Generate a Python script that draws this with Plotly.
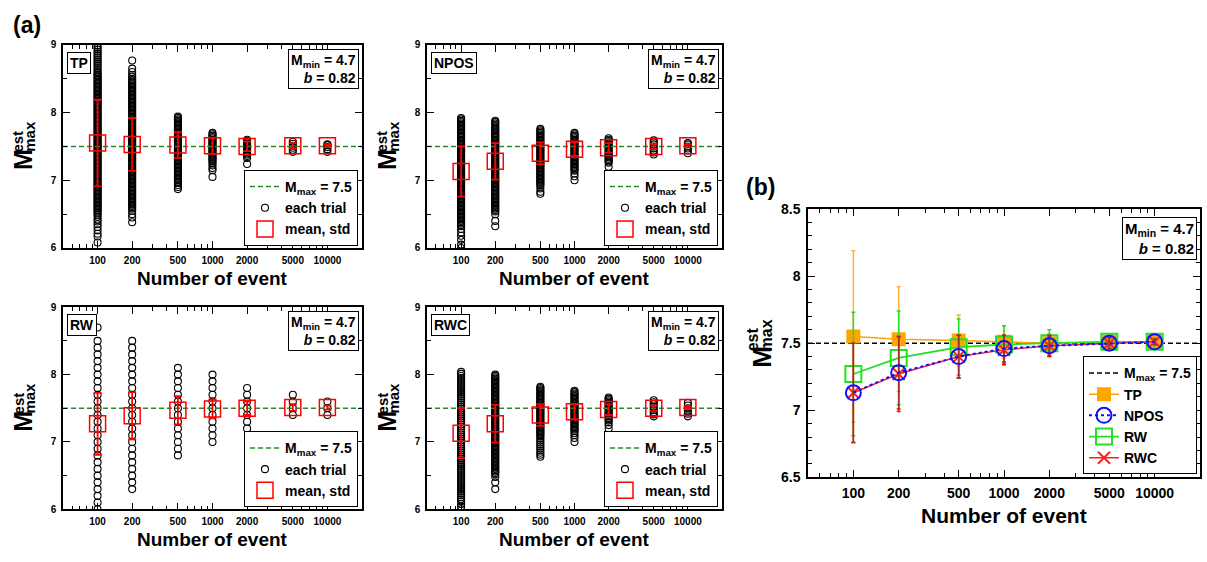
import math
import plotly.graph_objects as go

W, H = 1207, 562
FONT = "Liberation Sans, Arial, Helvetica, sans-serif"

# ---------------- data ----------------
N_EVENTS = [100, 200, 500, 1000, 2000, 5000, 10000]
X_TICK_TEXT = ["100", "200", "500", "1000", "2000", "5000", "10000"]
X_MINOR = [60, 70, 80, 90, 300, 400, 600, 700, 800, 900, 3000, 4000, 6000, 7000, 8000, 9000]
X_RANGE = [50, 20000]
A_Y_TICKS = [6, 7, 8, 9]
A_Y_MINOR = [6.5, 7.5, 8.5]
A_Y_RANGE = [6, 9]
B_Y_TICKS = [6.5, 7, 7.5, 8, 8.5]
B_Y_TICK_TEXT = ["6.5", "7", "7.5", "8", "8.5"]
B_Y_RANGE = [6.5, 8.5]

M_MAX = 7.5
M_MIN = 4.7
B_VALUE = 0.82

METHODS = ["TP", "NPOS", "RW", "RWC"]

MEAN_TP = [7.55, 7.53, 7.52, 7.51, 7.50, 7.51, 7.51]
STD_TP = [0.64, 0.39, 0.19, 0.12, 0.07, 0.04, 0.02]
MEAN_NPOS = [7.13, 7.28, 7.40, 7.46, 7.48, 7.50, 7.51]
STD_NPOS = [0.37, 0.27, 0.16, 0.10, 0.07, 0.04, 0.02]
MEAN_RW = [7.27, 7.39, 7.47, 7.49, 7.50, 7.51, 7.51]
STD_RW = [0.46, 0.35, 0.21, 0.14, 0.10, 0.05, 0.03]
MEAN_RWC = [7.13, 7.27, 7.40, 7.45, 7.48, 7.50, 7.51]
STD_RWC = [0.37, 0.28, 0.16, 0.11, 0.08, 0.04, 0.02]

TRIALS_TP = [
    [6.08, 6.17, 6.21, 6.26, 6.31, 6.35, 6.39, 6.42, 6.46, 6.49,
     6.52, 6.54, 6.56, 6.58, 6.60, 6.62, 6.64, 6.66, 6.68, 6.70,
     6.72, 6.74, 6.76, 6.78, 6.80, 6.82, 6.84, 6.86, 6.88, 6.90,
     6.92, 6.94, 6.96, 6.98, 7.00, 7.02, 7.04, 7.06, 7.08, 7.10,
     7.12, 7.14, 7.16, 7.18, 7.20, 7.22, 7.24, 7.26, 7.28, 7.30,
     7.32, 7.34, 7.36, 7.38, 7.40, 7.42, 7.44, 7.46, 7.48, 7.50,
     7.52, 7.54, 7.56, 7.58, 7.60, 7.62, 7.64, 7.66, 7.68, 7.70,
     7.72, 7.74, 7.76, 7.78, 7.80, 7.82, 7.84, 7.86, 7.88, 7.90,
     7.92, 7.94, 7.96, 7.98, 8.00, 8.02, 8.04, 8.06, 8.08, 8.10,
     8.12, 8.14, 8.16, 8.18, 8.20, 8.22, 8.24, 8.26, 8.28, 8.30,
     8.32, 8.34, 8.36, 8.38, 8.40, 8.42, 8.44, 8.46, 8.48, 8.50,
     8.52, 8.54, 8.56, 8.58, 8.60, 8.63, 8.66, 8.69, 8.72, 8.75,
     8.78, 8.81, 8.84, 8.87, 8.90, 8.93, 8.96, 8.99],
    [6.38, 6.45, 6.50, 6.55,
     6.58, 6.60, 6.62, 6.64, 6.66, 6.68, 6.70,
     6.72, 6.74, 6.76, 6.78, 6.80, 6.82, 6.84, 6.86, 6.88, 6.90,
     6.92, 6.94, 6.96, 6.98, 7.00, 7.02, 7.04, 7.06, 7.08, 7.10,
     7.12, 7.14, 7.16, 7.18, 7.20, 7.22, 7.24, 7.26, 7.28, 7.30,
     7.32, 7.34, 7.36, 7.38, 7.40, 7.42, 7.44, 7.46, 7.48, 7.50,
     7.52, 7.54, 7.56, 7.58, 7.60, 7.62, 7.64, 7.66, 7.68, 7.70,
     7.72, 7.74, 7.76, 7.78, 7.80, 7.82, 7.84, 7.86, 7.88, 7.90,
     7.92, 7.94, 7.96, 7.98, 8.00, 8.02, 8.04, 8.06, 8.08, 8.10,
     8.12, 8.14, 8.16, 8.18, 8.20, 8.22, 8.24, 8.26, 8.28, 8.30,
     8.32, 8.34, 8.36, 8.38, 8.40, 8.42, 8.44, 8.46, 8.48, 8.50,
     8.53, 8.56, 8.60, 8.65, 8.77],
    [6.87, 6.90, 6.93,
     6.96, 6.98, 7.00, 7.02, 7.04, 7.06, 7.08, 7.10,
     7.12, 7.14, 7.16, 7.18, 7.20, 7.22, 7.24, 7.26, 7.28, 7.30,
     7.32, 7.34, 7.36, 7.38, 7.40, 7.42, 7.44, 7.46, 7.48, 7.50,
     7.52, 7.54, 7.56, 7.58, 7.60, 7.62, 7.64, 7.66, 7.68, 7.70,
     7.72, 7.74, 7.76, 7.78, 7.80, 7.82, 7.84, 7.86, 7.88, 7.90,
     7.92, 7.94],
    [7.05, 7.15, 7.18, 7.22, 7.25, 7.28, 7.30,
     7.32, 7.34, 7.36, 7.38, 7.40, 7.42, 7.44, 7.46, 7.48, 7.50,
     7.52, 7.54, 7.56, 7.58, 7.60, 7.62, 7.64, 7.66, 7.68, 7.70],
    [7.24, 7.33, 7.36, 7.38, 7.40, 7.42, 7.44, 7.46, 7.48, 7.50,
     7.52, 7.54, 7.56, 7.58, 7.60],
    [7.42, 7.45, 7.48, 7.51, 7.54, 7.57],
    [7.42, 7.46, 7.49, 7.52, 7.53],
]
TRIALS_NPOS = [
    [6.00, 6.05, 6.12, 6.18, 6.23, 6.28,
     6.32, 6.34, 6.36, 6.38, 6.40, 6.42, 6.44, 6.46, 6.48, 6.50,
     6.52, 6.54, 6.56, 6.58, 6.60, 6.62, 6.64, 6.66, 6.68, 6.70,
     6.72, 6.74, 6.76, 6.78, 6.80, 6.82, 6.84, 6.86, 6.88, 6.90,
     6.92, 6.94, 6.96, 6.98, 7.00, 7.02, 7.04, 7.06, 7.08, 7.10,
     7.12, 7.14, 7.16, 7.18, 7.20, 7.22, 7.24, 7.26, 7.28, 7.30,
     7.32, 7.34, 7.36, 7.38, 7.40, 7.42, 7.44, 7.46, 7.48, 7.50,
     7.52, 7.54, 7.56, 7.58, 7.60, 7.62, 7.64, 7.66, 7.68, 7.70,
     7.72, 7.74, 7.76, 7.78, 7.80, 7.82, 7.84, 7.86, 7.88, 7.90,
     7.92],
    [6.32, 6.40, 6.50,
     6.54, 6.56, 6.58, 6.60, 6.62, 6.64, 6.66, 6.68, 6.70,
     6.72, 6.74, 6.76, 6.78, 6.80, 6.82, 6.84, 6.86, 6.88, 6.90,
     6.92, 6.94, 6.96, 6.98, 7.00, 7.02, 7.04, 7.06, 7.08, 7.10,
     7.12, 7.14, 7.16, 7.18, 7.20, 7.22, 7.24, 7.26, 7.28, 7.30,
     7.32, 7.34, 7.36, 7.38, 7.40, 7.42, 7.44, 7.46, 7.48, 7.50,
     7.52, 7.54, 7.56, 7.58, 7.60, 7.62, 7.64, 7.66, 7.68, 7.70,
     7.72, 7.74, 7.76, 7.78, 7.80, 7.82, 7.84, 7.86, 7.88],
    [6.80, 6.83, 6.88,
     6.92, 6.94, 6.96, 6.98, 7.00, 7.02, 7.04, 7.06, 7.08, 7.10,
     7.12, 7.14, 7.16, 7.18, 7.20, 7.22, 7.24, 7.26, 7.28, 7.30,
     7.32, 7.34, 7.36, 7.38, 7.40, 7.42, 7.44, 7.46, 7.48, 7.50,
     7.52, 7.54, 7.56, 7.58, 7.60, 7.62, 7.64, 7.66, 7.68, 7.70,
     7.72, 7.74, 7.76],
    [7.00, 7.06, 7.10,
     7.14, 7.16, 7.18, 7.20, 7.22, 7.24, 7.26, 7.28, 7.30,
     7.32, 7.34, 7.36, 7.38, 7.40, 7.42, 7.44, 7.46, 7.48, 7.50,
     7.52, 7.54, 7.56, 7.58, 7.60, 7.62, 7.64, 7.66, 7.68, 7.70],
    [7.20, 7.26, 7.28, 7.30,
     7.32, 7.34, 7.36, 7.38, 7.40, 7.42, 7.44, 7.46, 7.48, 7.50,
     7.52, 7.54, 7.56, 7.58, 7.60, 7.62],
    [7.38, 7.41, 7.44, 7.47, 7.50, 7.53, 7.56, 7.59],
    [7.40, 7.44, 7.47, 7.50, 7.53, 7.55],
]
TRIALS_RW = [
    [6.0, 6.1, 6.2, 6.3, 6.4, 6.5, 6.6, 6.7, 6.8, 6.9, 7.0, 7.1, 7.2, 7.3, 7.4, 7.5, 7.6, 7.7, 7.8, 7.9, 8.0,
     8.1, 8.2, 8.3, 8.4, 8.5, 8.7],
    [6.3, 6.4, 6.5, 6.6, 6.7, 6.8, 6.9, 7.0, 7.1, 7.2, 7.3, 7.4, 7.5, 7.6, 7.7, 7.8, 7.9, 8.0, 8.1, 8.2, 8.3,
     8.4, 8.5],
    [6.8, 6.9, 7.0, 7.1, 7.2, 7.3, 7.4, 7.5, 7.6, 7.7, 7.8, 7.9, 8.0, 8.1],
    [7.0, 7.1, 7.2, 7.3, 7.4, 7.5, 7.6, 7.7, 7.8, 7.9, 8.0],
    [7.2, 7.3, 7.4, 7.5, 7.6, 7.7, 7.8],
    [7.4, 7.5, 7.6, 7.7],
    [7.4, 7.5, 7.6],
]
TRIALS_RWC = [
    [6.00, 6.04, 6.08,
     6.12, 6.15, 6.18, 6.21, 6.24, 6.27, 6.30, 6.33, 6.36, 6.39, 6.42, 6.45, 6.48, 6.51, 6.54, 6.57,
     6.60, 6.63, 6.66, 6.69, 6.72, 6.75, 6.78, 6.81, 6.84, 6.87, 6.90, 6.93, 6.96, 6.99, 7.02, 7.05,
     7.08, 7.11, 7.14, 7.17, 7.20, 7.23, 7.26, 7.29, 7.32, 7.35, 7.38, 7.41, 7.44, 7.47, 7.50, 7.53,
     7.56, 7.59, 7.62, 7.65, 7.68, 7.71, 7.74, 7.77, 7.80, 7.83, 7.86, 7.89, 7.92, 7.95, 7.98, 8.01,
     8.04],
    [6.30, 6.40, 6.48,
     6.52, 6.54, 6.56, 6.58, 6.60, 6.62, 6.64, 6.66, 6.68, 6.70,
     6.72, 6.74, 6.76, 6.78, 6.80, 6.82, 6.84, 6.86, 6.88, 6.90,
     6.92, 6.94, 6.96, 6.98, 7.00, 7.02, 7.04, 7.06, 7.08, 7.10,
     7.12, 7.14, 7.16, 7.18, 7.20, 7.22, 7.24, 7.26, 7.28, 7.30,
     7.32, 7.34, 7.36, 7.38, 7.40, 7.42, 7.44, 7.46, 7.48, 7.50,
     7.52, 7.54, 7.56, 7.58, 7.60, 7.62, 7.64, 7.66, 7.68, 7.70,
     7.72, 7.74, 7.76, 7.78, 7.80, 7.82, 7.84, 7.86, 7.88, 7.90,
     7.92, 7.94, 7.96, 7.98, 8.00],
    [6.78, 6.81, 6.84, 6.87, 6.90, 6.93, 6.96, 6.99, 7.02, 7.05, 7.08,
     7.10, 7.12, 7.14, 7.16, 7.18, 7.20, 7.22, 7.24, 7.26, 7.28, 7.30,
     7.32, 7.34, 7.36, 7.38, 7.40, 7.42, 7.44, 7.46, 7.48, 7.50,
     7.52, 7.54, 7.56, 7.58, 7.60, 7.62, 7.64, 7.66, 7.68, 7.70,
     7.72, 7.74, 7.76, 7.78, 7.80, 7.82],
    [7.00, 7.06, 7.10, 7.13,
     7.16, 7.18, 7.20, 7.22, 7.24, 7.26, 7.28, 7.30,
     7.32, 7.34, 7.36, 7.38, 7.40, 7.42, 7.44, 7.46, 7.48, 7.50,
     7.52, 7.54, 7.56, 7.58, 7.60, 7.62, 7.64, 7.66, 7.68, 7.70,
     7.72, 7.74, 7.76],
    [7.20, 7.25, 7.29,
     7.32, 7.34, 7.36, 7.38, 7.40, 7.42, 7.44, 7.46, 7.48, 7.50,
     7.52, 7.54, 7.56, 7.58, 7.60, 7.62, 7.64, 7.66],
    [7.38, 7.41, 7.44, 7.47, 7.50, 7.53, 7.56, 7.59, 7.62],
    [7.38, 7.42, 7.46, 7.50, 7.54, 7.58],
]

TRIALS = [TRIALS_TP, TRIALS_NPOS, TRIALS_RW, TRIALS_RWC]
MEANS = [MEAN_TP, MEAN_NPOS, MEAN_RW, MEAN_RWC]
STDS = [STD_TP, STD_NPOS, STD_RW, STD_RWC]

# ---------------- layout helpers (pixel boxes) ----------------
PANELS_A = [(63, 362, 38, 247), (427, 722, 38, 247), (63, 362, 308, 516), (427, 722, 308, 516)]
PANEL_B = (808, 1200, 207, 483)


def px_x(p):
    return p / W


def px_y(p):
    return 1 - p / H


def bold(size, color="black"):
    return dict(family=FONT, size=size, color=color, weight="bold")


def text_at(xp, yp, text, size, angle=0):
    return dict(x=px_x(xp), y=px_y(yp), xref="paper", yref="paper", xanchor="center",
                yanchor="middle", text=text, textangle=angle, showarrow=False, font=bold(size))


def x_axis(box, anchor, tick_size):
    x0, x1, y0, y1 = box
    return dict(type="log", range=[math.log10(X_RANGE[0]), math.log10(X_RANGE[1])],
                domain=[px_x(x0), px_x(x1)], anchor=anchor,
                tickmode="array", tickvals=N_EVENTS, ticktext=X_TICK_TEXT,
                ticks="inside", ticklen=7, tickwidth=1, tickcolor="black",
                minor=dict(tickmode="array", tickvals=X_MINOR, ticks="inside", ticklen=4,
                           tickwidth=1, tickcolor="black", showgrid=False),
                showline=True, linecolor="black", linewidth=1.5, mirror="ticks",
                showgrid=False, zeroline=False, tickfont=bold(tick_size), ticklabelstandoff=2)


def y_axis(box, anchor, rng, tickvals, ticktext, minor, tick_size):
    x0, x1, y0, y1 = box
    return dict(range=rng, domain=[px_y(y1), px_y(y0)], anchor=anchor,
                tickmode="array", tickvals=tickvals, ticktext=ticktext,
                ticks="inside", ticklen=7, tickwidth=1, tickcolor="black",
                minor=minor,
                showline=True, linecolor="black", linewidth=1.5, mirror="ticks",
                showgrid=False, zeroline=False, tickfont=bold(tick_size), ticklabelstandoff=3)


fig = go.Figure()
layout = dict(width=W, height=H, margin=dict(l=0, r=0, t=0, b=0),
              paper_bgcolor="white", plot_bgcolor="white", showlegend=True)
annotations = []

LEGEND_KEYS = ["legend", "legend2", "legend3", "legend4"]

for i, method in enumerate(METHODS):
    k = i + 1
    box = PANELS_A[i]
    x0, x1, y0, y1 = box
    xname = "x" if k == 1 else f"x{k}"
    yname = "y" if k == 1 else f"y{k}"
    layout["xaxis" if k == 1 else f"xaxis{k}"] = x_axis(box, yname, 10)
    layout["yaxis" if k == 1 else f"yaxis{k}"] = y_axis(
        box, xname, A_Y_RANGE, A_Y_TICKS, [str(v) for v in A_Y_TICKS],
        dict(tickmode="array", tickvals=A_Y_MINOR, ticks="inside", ticklen=4, tickwidth=1,
             tickcolor="black", showgrid=False), 10)
    lg = LEGEND_KEYS[i]

    xs = [n for n, vals in zip(N_EVENTS, TRIALS[i]) for _ in vals]
    ys = [v for vals in TRIALS[i] for v in vals]
    fig.add_trace(go.Scatter(x=xs, y=ys, mode="markers", name="each trial",
                             marker=dict(symbol="circle-open", size=7, color="black", line=dict(width=1.1)),
                             xaxis=xname, yaxis=yname, legend=lg, legendrank=2))
    fig.add_trace(go.Scatter(x=X_RANGE, y=[M_MAX, M_MAX], mode="lines",
                             name="M<sub>max</sub> = 7.5",
                             line=dict(color="#2a8a2a", width=1.5, dash="5px,3px"),
                             xaxis=xname, yaxis=yname, legend=lg, legendrank=1))
    fig.add_trace(go.Scatter(x=N_EVENTS, y=MEANS[i], mode="markers", name="mean, std",
                             marker=dict(symbol="square-open", size=16, color="red", line=dict(width=1.5)),
                             error_y=dict(type="data", array=STDS[i], color="red", thickness=1.8, width=4),
                             xaxis=xname, yaxis=yname, legend=lg, legendrank=3))

    layout[lg] = dict(x=px_x(x1 - 4), y=px_y(y1 - 2), xanchor="right", yanchor="bottom",
                      xref="paper", yref="paper", bgcolor="white", bordercolor="black", borderwidth=1,
                      font=bold(14), itemwidth=30, tracegroupgap=0, traceorder="normal")

    # method label
    annotations.append(dict(x=px_x(x0 + 4), y=px_y(y0 + 7), xref="paper", yref="paper",
                            xanchor="left", yanchor="top", text=method, showarrow=False,
                            font=bold(14), bordercolor="black", borderwidth=1, borderpad=2,
                            bgcolor="white"))
    # parameter box
    annotations.append(dict(x=px_x(x1 - 3), y=px_y(y0 + 4), xref="paper", yref="paper",
                            xanchor="right", yanchor="top", align="right",
                            text=f"M<sub>min</sub> = {M_MIN}<br><i>b</i> = {B_VALUE}",
                            showarrow=False, font=bold(14), bordercolor="black", borderwidth=1,
                            borderpad=2, bgcolor="white"))
    # x title
    annotations.append(text_at((x0 + x1) / 2, y1 + 31, "Number of event", 19))
    # y title (stacked sup/sub)
    yc = (y0 + y1) / 2
    annotations.append(text_at(x0 - 40, yc + 14, "M", 25, -90))
    annotations.append(text_at(x0 - 45, yc - 5, "est", 15, -90))
    annotations.append(text_at(x0 - 33, yc - 10, "max", 15, -90))

# ---------------- panel (b) ----------------
x0, x1, y0, y1 = PANEL_B
layout["xaxis5"] = x_axis(PANEL_B, "y5", 14)
layout["yaxis5"] = y_axis(PANEL_B, "x5", B_Y_RANGE, B_Y_TICKS, B_Y_TICK_TEXT,
                          dict(dtick=0.1, tick0=6.5, ticks="inside", ticklen=4, tickwidth=1,
                               tickcolor="black", showgrid=False), 14)

B_STYLE = {
    "TP": dict(color="#FFA500", err="#FFB233", symbol="square", size=12, dash="solid", width=1.5, rank=2),
    "RW": dict(color="#22E022", err="#22E022", symbol="square-open", size=16, dash="solid", width=1.8, rank=4),
    "RWC": dict(color="#FF2020", err="#FF0000", symbol="x-thin", size=12, dash="solid", width=1.5, rank=5),
    "NPOS": dict(color="#1010FF", err="#A0302A", symbol="circle-open", size=15, dash="dot", width=2, rank=3),
}

fig.add_trace(go.Scatter(x=X_RANGE, y=[M_MAX, M_MAX], mode="lines", name="M<sub>max</sub> = 7.5",
                         line=dict(color="black", width=1.5, dash="5px,3px"),
                         xaxis="x5", yaxis="y5", legend="legend5", legendrank=1))
for method in ["TP", "RW", "RWC", "NPOS"]:
    i = METHODS.index(method)
    st = B_STYLE[method]
    mline = dict(width=2, color=st["color"])
    fig.add_trace(go.Scatter(x=N_EVENTS, y=MEANS[i], mode="lines+markers", name=method,
                             line=dict(color=st["color"], width=st["width"], dash=st["dash"]),
                             marker=dict(symbol=st["symbol"], size=st["size"], color=st["color"], line=mline),
                             error_y=dict(type="data", array=STDS[i], color=st["err"], thickness=1.5, width=2),
                             xaxis="x5", yaxis="y5", legend="legend5", legendrank=st["rank"]))

layout["legend5"] = dict(x=px_x(x1 - 3), y=px_y(y1 - 3), xanchor="right", yanchor="bottom",
                         xref="paper", yref="paper", bgcolor="white", bordercolor="black", borderwidth=1,
                         font=bold(14), itemwidth=30, tracegroupgap=0, traceorder="normal")

annotations.append(dict(x=px_x(x1 - 3), y=px_y(y0 + 8), xref="paper", yref="paper",
                        xanchor="right", yanchor="top", align="right",
                        text=f"M<sub>min</sub> = {M_MIN}<br><i>b</i> = {B_VALUE}",
                        showarrow=False, font=bold(15), bordercolor="black", borderwidth=1,
                        borderpad=2, bgcolor="white"))
annotations.append(text_at((x0 + x1) / 2, y1 + 39, "Number of event", 21))
yc = (y0 + y1) / 2
annotations.append(text_at(x0 - 46, yc + 14, "M", 26, -90))
annotations.append(text_at(x0 - 56, yc - 4, "est", 16, -90))
annotations.append(text_at(x0 - 42, yc - 8, "max", 16, -90))

# panel letters
annotations.append(text_at(27, 17, "(a)", 23))
annotations.append(text_at(760, 184, "(b)", 23))

layout["annotations"] = annotations
fig.update_layout(**layout)
fig.write_html("out.html")
